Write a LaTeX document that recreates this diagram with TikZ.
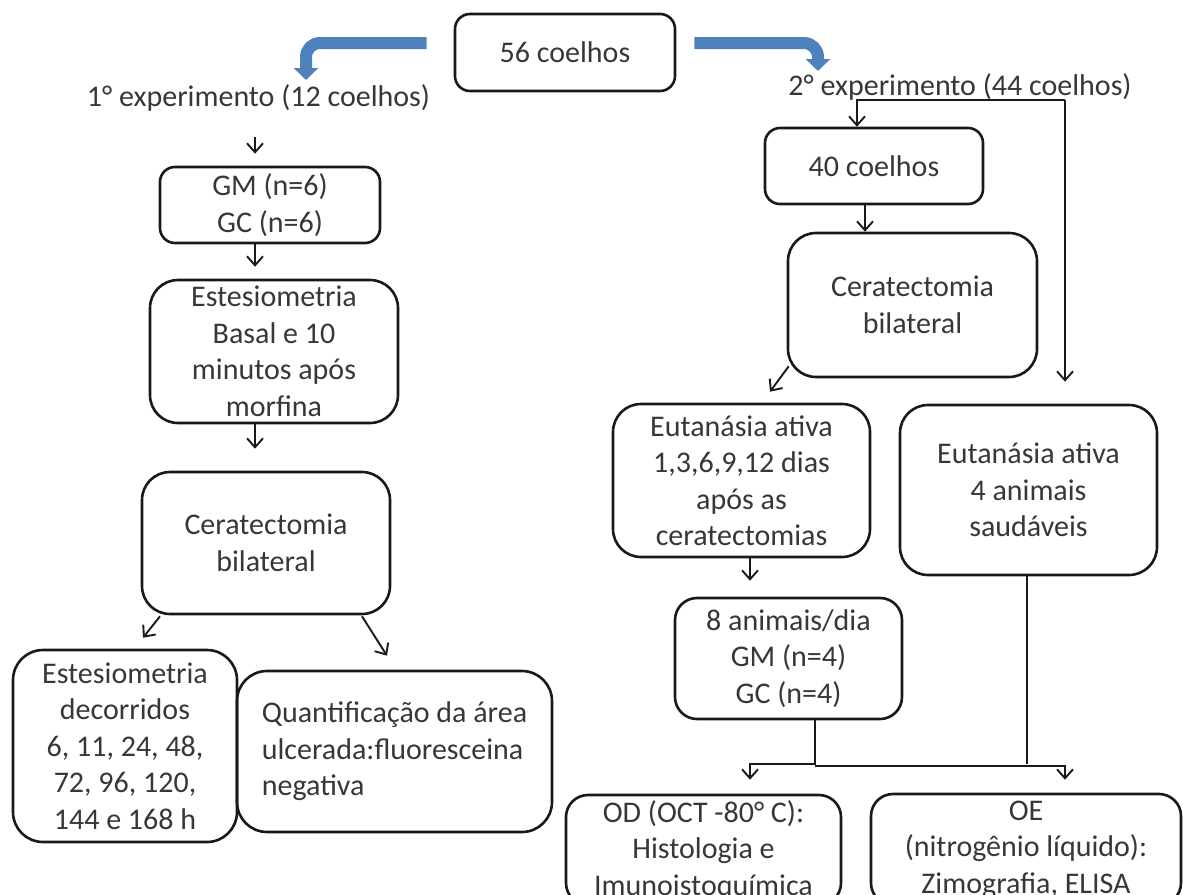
\documentclass[tikz,border=0pt]{standalone}
\usepackage{fontspec}
\setmainfont{Carlito}
\usetikzlibrary{arrows.meta,calc}
\definecolor{txt}{RGB}{55,55,55}
\definecolor{edge}{RGB}{25,25,25}
\definecolor{bluearr}{RGB}{79,129,189}
\begin{document}
\begin{tikzpicture}[x=1pt,y=-1pt,
  font=\fontsize{30pt}{36.5pt}\selectfont, text=txt,
  box/.style={draw=edge,line width=2.6pt,rounded corners=22pt,align=center,inner sep=0pt},
  lbl/.style={inner sep=0pt,anchor=base},
  arr/.style={draw=edge,line width=1.9pt,-{Straight Barb[length=9pt,width=16pt]}},
  plain/.style={draw=edge,line width=1.9pt},
  bigarr/.style={draw=bluearr,line width=12pt,rounded corners=14pt,-{Triangle[length=12pt,width=24pt]}}]
\useasboundingbox (0,0) rectangle (1183,894);
\clip (0,0) rectangle (1183,894);

% top
\node[box,rounded corners=15pt,minimum width=220pt,minimum height=77pt] (n56) at (565,52.5) {56 coelhos};
\node[lbl] (exp1) at (258.5,106) {1° experimento (12 coelhos)};
\node[lbl] (exp2) at (960,95) {2° experimento (44 coelhos)};

% left column
\node[box,rounded corners=15pt,minimum width=220pt,minimum height=76pt] (GM) at (270,205) {GM (n=6)\\GC (n=6)};
\node[box,rounded corners=28pt,minimum width=248pt,minimum height=143pt] (Est) at (274,351.5) {Estesiometria\\Basal e 10\\minutos após\\morfina};
\node[box,rounded corners=28pt,minimum width=248pt,minimum height=142pt] (cerL) at (266,543) {Ceratectomia\\bilateral};
\node[box,rounded corners=30pt,minimum width=224pt,minimum height=192pt] (estD) at (125,746) {Estesiometria\\decorridos\\6, 11, 24, 48,\\72, 96, 120,\\144 e 168 h};
\node[box,rounded corners=30pt,minimum width=315pt,minimum height=161pt,align=left] (quant) at (394.5,751.5) {Quantificação da área\\ulcerada:fluoresceina\\negativa};

% right column
\node[box,rounded corners=15pt,minimum width=218pt,minimum height=76pt] (b40) at (874,166) {40 coelhos};
\node[box,rounded corners=28pt,minimum width=249pt,minimum height=144pt] (cerR) at (912.5,305) {Ceratectomia\\bilateral};
\node[box,rounded corners=28pt,minimum width=257pt,minimum height=153pt] (eutL) at (741.5,480.5) {Eutanásia ativa\\1,3,6,9,12 dias\\após as\\ceratectomias};
\node[box,rounded corners=28pt,minimum width=257pt,minimum height=170pt] (eutR) at (1028.5,490) {Eutanásia ativa\\4 animais\\saudáveis};
\node[box,rounded corners=22pt,minimum width=227pt,minimum height=121pt] (b8) at (788.5,658.5) {8 animais/dia\\GM (n=4)\\GC (n=4)};
\node[box,rounded corners=22pt,minimum width=275pt,minimum height=110pt] (OD) at (703.5,850) {OD (OCT -80° C):\\Histologia e\\Imunoistoquímica};
\node[box,rounded corners=22pt,minimum width=310pt,minimum height=111pt] (OE) at (1026,849.5) {OE\\(nitrogênio líquido):\\Zimografia, ELISA};

% blue arrows
\draw[bigarr] ($(n56.west)+(-27,-9.5)$) -| ($(exp1.base)+(47.5,-26)$);
\draw[bigarr] ($(n56.east)+(18,-9.5)$) -| ($(exp2.base)+(-142,-24)$);

% left connectors
\draw[arr] ($(exp1.base)+(-3.5,31)$) -- ($(GM.north)+(-15,-12)$);
\draw[arr] ($(GM.south)+(-15,0)$) -- ($(Est.north)+(-19,-12)$);
\draw[arr] ($(Est.south)+(-19,0)$) -- ($(cerL.north)+(-11,-22)$);
\draw[arr] ($(cerL.south)+(-106,1)$) -- ($(estD.north)+(18,-11)$);
\draw[arr] ($(cerL.south)+(96,1)$) -- ($(quant.north)+(-7.5,-14)$);

% right connectors
\draw[arr] ($(exp2.base)+(105,5)$) -| ($(b40.north)+(-17,0)$);
\draw[arr] ($(exp2.base)+(105,5)$) -- ($(eutR.north)+(36.5,-22)$);
\draw[arr] ($(b40.south)+(-9,0)$) -- ($(cerR.north)+(-47.5,0)$);
\draw[arr] ($(cerR.south west)+(2,-12)$) -- ($(eutL.north)+(28.5,-11)$);
\draw[arr] ($(eutL.south)+(8.5,0)$) -- ($(b8.north)+(-38.5,-16)$);
\draw[arr] ($(b8.south)+(26.5,0)$) |- ($(OD.north)+(46.5,-30)$) -- ($(OD.north)+(46.5,-14)$);
\draw[arr] ($(b8.south)+(26.5,46)$) -| ($(OE.north)+(39,-13)$);
\draw[plain] ($(eutR.south)+(-1.5,0)$) -- ($(OE.north)+(1,-29)$);
\end{tikzpicture}
\end{document}
